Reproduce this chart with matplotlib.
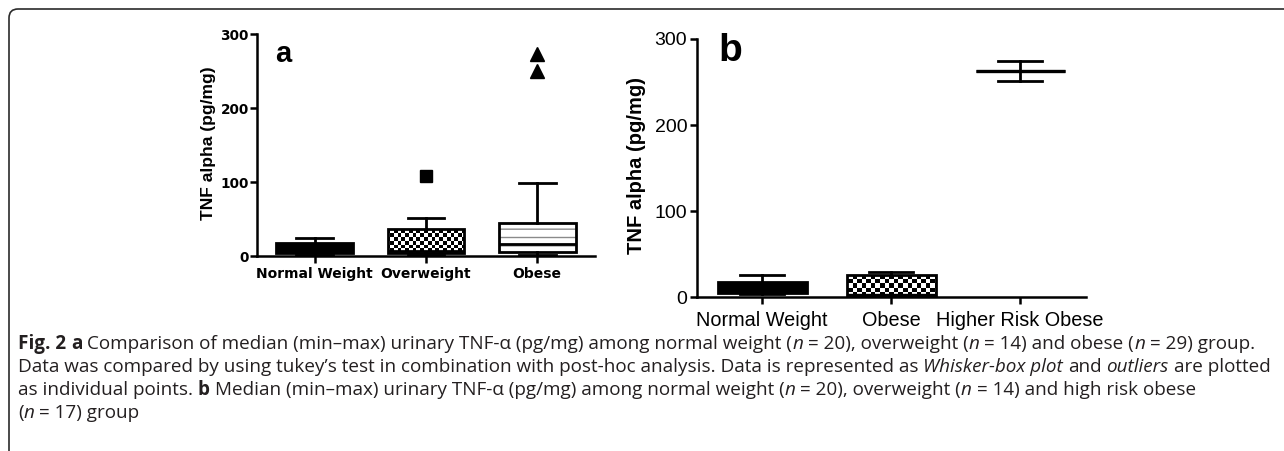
import matplotlib
matplotlib.use("Agg")
import matplotlib.pyplot as plt
import numpy as np
from matplotlib.patches import PathPatch, FancyBboxPatch
from matplotlib.transforms import IdentityTransform

W, H = 1284, 451

# ---- panel a data ----
groups_a = ["Normal Weight", "Overweight", "Obese"]
a_whislo = [2, 1, 1]
a_q1 = [4, 4, 5]
a_med = [12, 7, 16]
a_q3 = [18, 36, 45]
a_whishi = [24, 51, 98]
a_fliers = [[], [108], [250, 273]]

# ---- panel b data ----
groups_b = ["Normal Weight", "Obese", "Higher Risk Obese"]
b_whislo = [3, 0, 251]
b_q1 = [5, 1, 263]
b_med = [12, 2, 263]
b_q3 = [17, 25.5, 263]
b_whishi = [26, 29, 274]

yticks = [0, 100, 200, 300]

caption = [
    [("Fig. 2 ", "b"), ("a", "b"),
     (" Comparison of median (min\u2013max) urinary TNF-\u03b1 (pg/mg) among normal weight (", "r"),
     ("n", "i"), (" = 20), overweight (", "r"), ("n", "i"), (" = 14) and obese (", "r"),
     ("n", "i"), (" = 29) group.", "r")],
    [("Data was compared by using tukey\u2019s test in combination with post-hoc analysis. Data is represented as ", "r"),
     ("Whisker-box plot", "i"), (" and ", "r"), ("outliers", "i"), (" are plotted", "r")],
    [("as individual points. ", "r"), ("b", "b"),
     (" Median (min\u2013max) urinary TNF-\u03b1 (pg/mg) among normal weight (", "r"),
     ("n", "i"), (" = 20), overweight (", "r"), ("n", "i"), (" = 14) and high risk obese", "r")],
    [("(", "r"), ("n", "i"), (" = 17) group", "r")],
]


def make_stats(lo, q1, med, q3, hi, fl=None):
    out = []
    for i in range(len(lo)):
        out.append(dict(whislo=lo[i], q1=q1[i], med=med[i], q3=q3[i], whishi=hi[i],
                        fliers=fl[i] if fl else []))
    return out


def checker(ax, patch, cell_px):
    bb = ax.get_position()
    ncol = int(round(bb.width * W / cell_px))
    nrow = int(round(bb.height * H / cell_px))
    board = np.add.outer(np.arange(nrow), np.arange(ncol)) % 2
    xl, yl = ax.get_xlim(), ax.get_ylim()
    im = ax.imshow(board, cmap="gray", vmin=0, vmax=1, extent=(xl[0], xl[1], yl[0], yl[1]),
                   aspect="auto", interpolation="nearest", origin="lower", zorder=1.5)
    im.set_clip_path(patch)
    ax.set_xlim(xl)
    ax.set_ylim(yl)


def style_axes(ax, lw):
    for s in ["top", "right"]:
        ax.spines[s].set_visible(False)
    for s in ["left", "bottom"]:
        ax.spines[s].set_linewidth(lw)
    ax.tick_params(width=lw, length=5, direction="out")


plt.rcParams["hatch.linewidth"] = 1.0
fig = plt.figure(figsize=(W / 100, H / 100), dpi=100)

# ---------------- panel a ----------------
ax1 = fig.add_axes([257 / W, (H - 256) / H, 338 / W, 222 / H])
ax1.set_xlim(-0.52, 2.52)
ax1.set_ylim(0, 300)
res = ax1.bxp(make_stats(a_whislo, a_q1, a_med, a_q3, a_whishi, a_fliers),
              positions=[0, 1, 2], widths=0.69, capwidths=0.33, patch_artist=True,
              manage_ticks=False,
              boxprops=dict(facecolor="k", edgecolor="k", linewidth=2),
              whiskerprops=dict(color="k", linewidth=2),
              capprops=dict(color="k", linewidth=2),
              medianprops=dict(color="k", linewidth=2))
res["boxes"][1].set_facecolor("none")
res["boxes"][2].set_facecolor("white")
checker(ax1, res["boxes"][1], 3.8)
hp = PathPatch(res["boxes"][2].get_path(), transform=ax1.transData, facecolor="none",
               edgecolor="#8a8a8a", linewidth=0.5, hatch="--", zorder=2.05)
ax1.add_patch(hp)
res["boxes"][2].set_zorder(2.1)
res["boxes"][2].set_facecolor("none")
ax1.add_patch(PathPatch(res["boxes"][2].get_path(), transform=ax1.transData,
                        facecolor="white", edgecolor="none", zorder=1.9))
for m in res["medians"]:
    m.set_zorder(2.2)
for fl, mk, ms in zip(res["fliers"], ["o", "s", "^"], [8, 9, 10]):
    fl.set_marker(mk)
    fl.set_markersize(ms)
    fl.set_markerfacecolor("k")
    fl.set_markeredgecolor("k")
    fl.set_clip_on(False)
style_axes(ax1, 1.8)
ax1.set_xticks(range(3))
ax1.set_xticklabels(groups_a, fontfamily="DejaVu Sans", fontweight="bold", fontsize=10)
ax1.set_yticks(yticks)
ax1.set_yticklabels([str(v) for v in yticks], fontfamily="DejaVu Sans", fontweight="bold", fontsize=9.8)
ax1.tick_params(axis="y", pad=1)
ax1.tick_params(axis="x", pad=3)
fig.text(208 / W, 1 - 143 / H, "TNF alpha (pg/mg)", rotation=90, ha="center", va="center",
         fontfamily="Liberation Sans", fontweight="bold", fontsize=12.5)
fig.text(275 / W, 1 - 62 / H, "a", fontfamily="Liberation Sans", fontweight="bold",
         fontsize=21, va="baseline")

# ---------------- panel b ----------------
ax2 = fig.add_axes([697 / W, (H - 297) / H, 389 / W, 258 / H])
ax2.set_xlim(-0.504, 2.51)
ax2.set_ylim(0, 300)
res2 = ax2.bxp(make_stats(b_whislo, b_q1, b_med, b_q3, b_whishi),
               positions=[0, 1, 2], widths=0.69, capwidths=0.34, patch_artist=True,
               manage_ticks=False, showfliers=False,
               boxprops=dict(facecolor="k", edgecolor="k", linewidth=2),
               whiskerprops=dict(color="k", linewidth=2),
               capprops=dict(color="k", linewidth=2),
               medianprops=dict(color="k", linewidth=2.4))
res2["boxes"][1].set_facecolor("none")
checker(ax2, res2["boxes"][1], 4.6)
style_axes(ax2, 1.8)
ax2.set_xticks(range(3))
ax2.set_xticklabels(groups_b, fontfamily="Liberation Sans", fontsize=14.3)
ax2.set_yticks(yticks)
ax2.set_yticklabels([str(v) for v in yticks], fontfamily="Liberation Sans", fontsize=14)
ax2.tick_params(axis="y", pad=2)
ax2.tick_params(axis="x", pad=5)
fig.text(636 / W, 1 - 166 / H, "TNF alpha (pg/mg)", rotation=90, ha="center", va="center",
         fontfamily="Liberation Sans", fontweight="bold", fontsize=14.5)
fig.text(718 / W, 1 - 61 / H, "b", fontfamily="Liberation Sans", fontweight="bold",
         fontsize=28, va="baseline")

# ---------------- caption ----------------
renderer = fig.canvas.get_renderer()
cap_font = "Open Sans"
cap_color = "#231f20"
styles = {"r": dict(), "b": dict(fontweight="bold"), "i": dict(fontstyle="italic")}


def text_w(s, size, st):
    t = fig.text(0, 0, s, fontfamily=cap_font, fontsize=size, **styles[st])
    w = t.get_window_extent(renderer).width
    t.remove()
    return w


def draw_line(segs, x0, ybase, size, draw=True):
    sw = text_w("a a", size, "r") - text_w("aa", size, "r")
    x = x0
    for s, st in segs:
        core = s.strip(" ")
        lead = len(s) - len(s.lstrip(" "))
        trail = len(s) - len(s.rstrip(" "))
        x += lead * sw
        t = fig.text(x / W, 1 - ybase / H, core, fontfamily=cap_font, fontsize=size,
                     color=cap_color, va="baseline", **styles[st])
        x += t.get_window_extent(renderer).width + trail * sw
        if not draw:
            t.remove()
    return x


# fit size so that lines 1 and 2 end roughly where they do in the source
x_left = 18
w1 = draw_line(caption[0], 0, 0, 10, draw=False)
w2 = draw_line(caption[1], 0, 0, 10, draw=False)
cap_size = 10 * 0.5 * ((1265 - x_left) / w1 + (1257 - x_left) / w2)
for i, segs in enumerate(caption):
    draw_line(segs, x_left, 349 + 23 * i, cap_size)

# outer frame with rounded top-left corner
frame = FancyBboxPatch((9, -30), W + 40, H - 9 + 30, boxstyle="round,pad=0,rounding_size=9",
                       transform=IdentityTransform(), facecolor="none", edgecolor="#2b2b2b",
                       linewidth=1.2)
fig.add_artist(frame)

fig.savefig("out.png", dpi=100)
